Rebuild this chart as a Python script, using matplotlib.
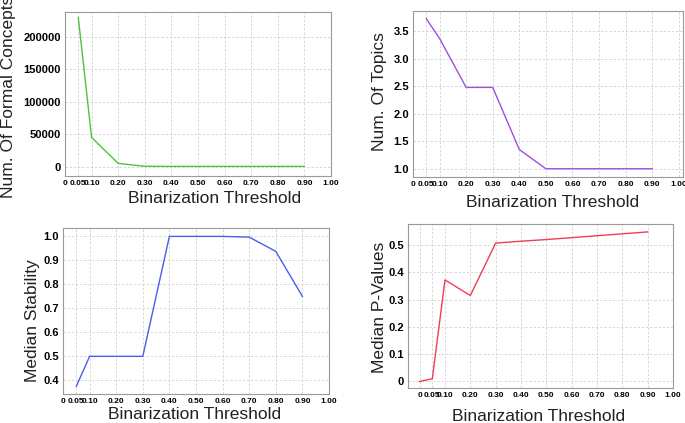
import matplotlib
matplotlib.use("Agg")
import matplotlib.pyplot as plt

plt.rcParams['font.family'] = ['Liberation Sans', 'DejaVu Sans']

# binarization thresholds
thr = [0.05, 0.1, 0.2, 0.3, 0.4, 0.5, 0.6, 0.7, 0.8, 0.9]
thr_p = [0.0, 0.05, 0.1, 0.2, 0.3, 0.4, 0.5, 0.6, 0.7, 0.8, 0.9]

formal_concepts = [230000, 45000, 5000, 600, 400, 400, 400, 400, 400, 400]
num_topics = [3.73, 3.37, 2.48, 2.48, 1.35, 1.0, 1.0, 1.0, 1.0, 1.0]
median_stability = [0.375, 0.5, 0.5, 0.5, 1.0, 1.0, 1.0, 0.997, 0.9375, 0.75]
median_pvalues = [0.0, 0.01, 0.372, 0.315, 0.507, 0.514, 0.52, 0.527, 0.534, 0.541, 0.548]

xticks = [0, 0.05, 0.1, 0.2, 0.3, 0.4, 0.5, 0.6, 0.7, 0.8, 0.9, 1.0]
xticklabels = ['0', '0.05', '0.10', '0.20', '0.30', '0.40', '0.50',
               '0.60', '0.70', '0.80', '0.90', '1.00']

W, H = 685, 423
fig = plt.figure(figsize=(W / 100, H / 100), dpi=100)


def box(left, top, right, bottom):
    return [left / W, (H - bottom) / H, (right - left) / W, (bottom - top) / H]


def style(ax, xlim, ylim, yticks, ylabels):
    ax.set_xlim(*xlim)
    ax.set_ylim(*ylim)
    ax.set_xticks(xticks)
    ax.set_xticklabels(xticklabels, fontsize=6, fontweight='bold')
    ax.set_yticks(yticks)
    ax.set_yticklabels(ylabels, fontsize=8, fontweight='bold')
    ax.tick_params(length=0, pad=3)
    ax.grid(True, color='#cfd3d3', linestyle=(0, (3, 2)), linewidth=0.6)
    for s in ax.spines.values():
        s.set_color('#9a9a9a')
        s.set_linewidth(0.8)


def labels(xl, xb, yl, yc, ytext):
    fig.text(xl / W, (H - xb) / H, 'Binarization Threshold', fontsize=12.5,
             ha='center', va='baseline', color='#222222')
    fig.text(yl / W, (H - yc) / H, ytext, fontsize=12.5, rotation=90,
             rotation_mode='anchor', ha='center', va='baseline', color='#222222')


# top left
ax1 = fig.add_axes(box(65, 12, 331, 176))
ax1.plot(thr, formal_concepts, color='#4cc43a', linewidth=1)
style(ax1, (0, 1.0), (-14400, 238500), [0, 50000, 100000, 150000, 200000],
      ['0', '50000', '100000', '150000', '200000'])
labels(215, 203, 13, 97, 'Num. Of Formal Concepts')

# top right
ax2 = fig.add_axes(box(413, 11, 683, 177))
ax2.plot(thr, num_topics, color='#a04ee0', linewidth=1)
style(ax2, (0, 1.016), (0.85, 3.87), [1.0, 1.5, 2.0, 2.5, 3.0, 3.5],
      ['1.0', '1.5', '2.0', '2.5', '3.0', '3.5'])
labels(553, 207, 384, 92, 'Num. Of Topics')

# bottom left
ax3 = fig.add_axes(box(63, 228, 329, 394))
ax3.plot(thr, median_stability, color='#4a5cf0', linewidth=1)
style(ax3, (0, 1.0), (0.343, 1.035), [0.4, 0.5, 0.6, 0.7, 0.8, 0.9, 1.0],
      ['0.4', '0.5', '0.6', '0.7', '0.8', '0.9', '1.0'])
labels(195, 419, 37, 321, 'Median Stability')

# bottom right
ax4 = fig.add_axes(box(408, 224, 673, 388))
ax4.plot(thr_p, median_pvalues, color='#f03c5a', linewidth=1)
style(ax4, (-0.046, 1.0), (-0.024, 0.577), [0, 0.1, 0.2, 0.3, 0.4, 0.5],
      ['0', '0.1', '0.2', '0.3', '0.4', '0.5'])
labels(539, 421, 384, 307, 'Median P-Values')

fig.savefig('out.png', dpi=100)
